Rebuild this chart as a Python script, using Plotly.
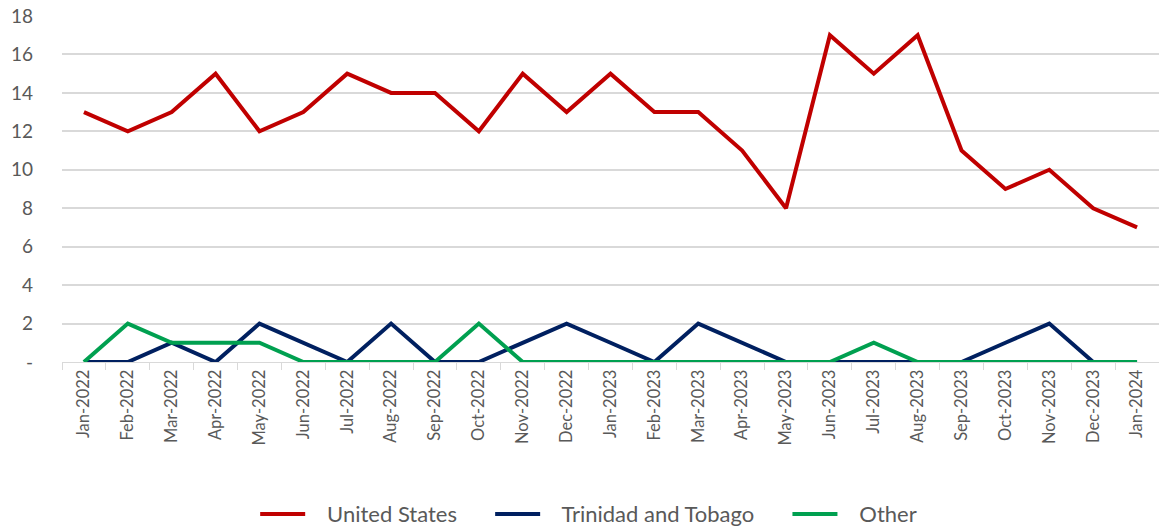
import plotly.graph_objects as go

months = ["Jan-2022","Feb-2022","Mar-2022","Apr-2022","May-2022","Jun-2022","Jul-2022","Aug-2022",
          "Sep-2022","Oct-2022","Nov-2022","Dec-2022","Jan-2023","Feb-2023","Mar-2023","Apr-2023",
          "May-2023","Jun-2023","Jul-2023","Aug-2023","Sep-2023","Oct-2023","Nov-2023","Dec-2023","Jan-2024"]
united_states = [13,12,13,15,12,13,15,14,14,12,15,13,15,13,13,11,8,17,15,17,11,9,10,8,7]
trinidad = [0,0,1,0,2,1,0,2,0,0,1,2,1,0,2,1,0,0,0,0,0,1,2,0,0]
other = [0,2,1,1,1,0,0,0,0,2,0,0,0,0,0,0,0,0,1,0,0,0,0,0,0]
series_names = ["United States", "Trinidad and Tobago", "Other"]

y_ticks = [0,2,4,6,8,10,12,14,16,18]
y_labels = ["-","2","4","6","8","10","12","14","16","18"]

font_family = "Lato, 'Open Sans', sans-serif"
gray = "#595959"
lead = "\u00a0" * 3
pad = "\u00a0" * 5

fig = go.Figure()
for name, vals, color in zip(series_names, [united_states, trinidad, other],
                             ["#C00000", "#002060", "#00A050"]):
    fig.add_trace(go.Scatter(x=months, y=vals, name=lead + name + pad, mode="lines",
                             line=dict(color=color, width=4)))

fig.update_layout(
    width=1159, height=530,
    margin=dict(l=62, r=0, t=16, b=168, autoexpand=False),
    plot_bgcolor="white", paper_bgcolor="white",
    font=dict(family=font_family, size=17, color=gray),
    showlegend=True,
    legend=dict(orientation="h", x=0.52, xanchor="center", xref="container",
                y=0.03, yanchor="middle", yref="container", itemwidth=45,
                font=dict(size=22, color=gray), tracegroupgap=0),
    xaxis=dict(type="category", tickangle=-90, showgrid=False, showline=True,
               linecolor="#D9D9D9", linewidth=1, ticks="outside", tickson="boundaries",
               tickcolor="#D9D9D9", ticklen=7, range=[-0.5, 24.5], automargin=False,
               tickfont=dict(size=16.5, color=gray)),
    yaxis=dict(range=[0, 18], tickvals=y_ticks, ticktext=y_labels, showgrid=True,
               gridcolor="#D9D9D9", gridwidth=1.5, zeroline=False, showline=False,
               ticks="", ticklabelstandoff=28, automargin=False,
               tickfont=dict(size=19, color=gray)),
)

fig.write_html("out.html", config={"displayModeBar": False},
               post_script="document.body.style.margin='0px';document.body.style.overflow='hidden';")
